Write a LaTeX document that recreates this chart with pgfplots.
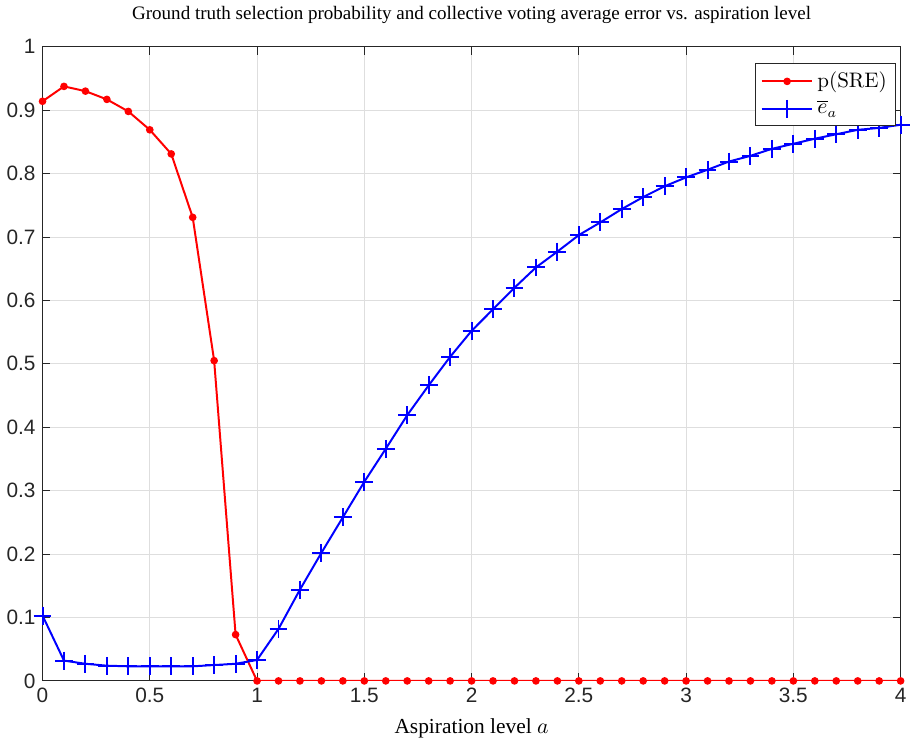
\documentclass[border=0pt]{standalone}
\usepackage{fontspec}
\setmainfont{Liberation Serif}
\newfontfamily\ticksfont{Liberation Sans}
\newfontfamily\lmfont{Latin Modern Roman}
\usepackage{pgfplots}
\pgfplotsset{compat=1.18}

\definecolor{axgray}{rgb}{0.15,0.15,0.15}

\begin{document}
\begin{tikzpicture}
\begin{axis}[
  width=433pt, height=320pt,
  scale only axis,
  xmin=0, xmax=4,
  ymin=0, ymax=1,
  xtick={0,0.5,...,4},
  ytick={0,0.1,...,1},
  grid=major,
  major grid style={draw=black!13, line width=0.5pt},
  tick align=inside,
  tick pos=both,
  major tick length=4pt,
  tick style={axgray, line width=0.5pt},
  axis line style={axgray, line width=0.5pt},
  /pgf/number format/assume math mode=true,
  tick label style={font=\ticksfont\fontsize{10.5}{12}\selectfont, text=axgray},
  xlabel={Aspiration level $a$},
  xlabel style={font=\fontsize{10.8}{13}\selectfont, yshift=-1pt},
  title={Ground truth selection probability and collective voting average error vs. aspiration level},
  title style={font=\fontsize{9.6}{11}\selectfont, yshift=2pt},
  legend style={at={(0.995,0.975)}, anchor=north east, draw=axgray,
    font=\lmfont\fontsize{10.6}{12}\selectfont, line width=0.5pt,
    inner sep=2.5pt, row sep=1pt},
  legend cell align=left,
  legend image code/.code={
    \draw[mark repeat=2, mark phase=2, #1]
      plot coordinates {(0cm,0cm) (0.45cm,0cm) (0.9cm,0cm)};},
]
\addplot[red, line width=1pt, mark=*, mark size=1.4pt]
  coordinates {(0,0.914) (0.1,0.9375) (0.2,0.930) (0.3,0.917) (0.4,0.898)
  (0.5,0.869) (0.6,0.831) (0.7,0.731) (0.8,0.505) (0.9,0.073) (1.0,0)
  (1.1,0) (1.2,0) (1.3,0) (1.4,0) (1.5,0) (1.6,0) (1.7,0) (1.8,0) (1.9,0)
  (2.0,0) (2.1,0) (2.2,0) (2.3,0) (2.4,0) (2.5,0) (2.6,0) (2.7,0) (2.8,0) (2.9,0)
  (3.0,0) (3.1,0) (3.2,0) (3.3,0) (3.4,0) (3.5,0) (3.6,0) (3.7,0) (3.8,0) (3.9,0) (4.0,0)};
\addlegendentry{p(SRE)}
\addplot[blue, line width=1pt, mark=+, mark size=4.5pt, mark options={line width=1pt}]
  coordinates {(0,0.103) (0.1,0.032) (0.2,0.027) (0.3,0.024) (0.4,0.023)
  (0.5,0.023) (0.6,0.023) (0.7,0.023) (0.8,0.025) (0.9,0.027) (1.0,0.033)
  (1.1,0.082) (1.2,0.144) (1.3,0.202) (1.4,0.258) (1.5,0.314) (1.6,0.366)
  (1.7,0.419) (1.8,0.466) (1.9,0.511) (2.0,0.552) (2.1,0.586) (2.2,0.620)
  (2.3,0.652) (2.4,0.677) (2.5,0.703) (2.6,0.723) (2.7,0.744) (2.8,0.763)
  (2.9,0.780) (3.0,0.794) (3.1,0.806) (3.2,0.819) (3.3,0.828) (3.4,0.839)
  (3.5,0.847) (3.6,0.855) (3.7,0.862) (3.8,0.869) (3.9,0.872) (4.0,0.877)};
\addlegendentry{$\overline{e}_a$}
\end{axis}
\end{tikzpicture}
\end{document}
